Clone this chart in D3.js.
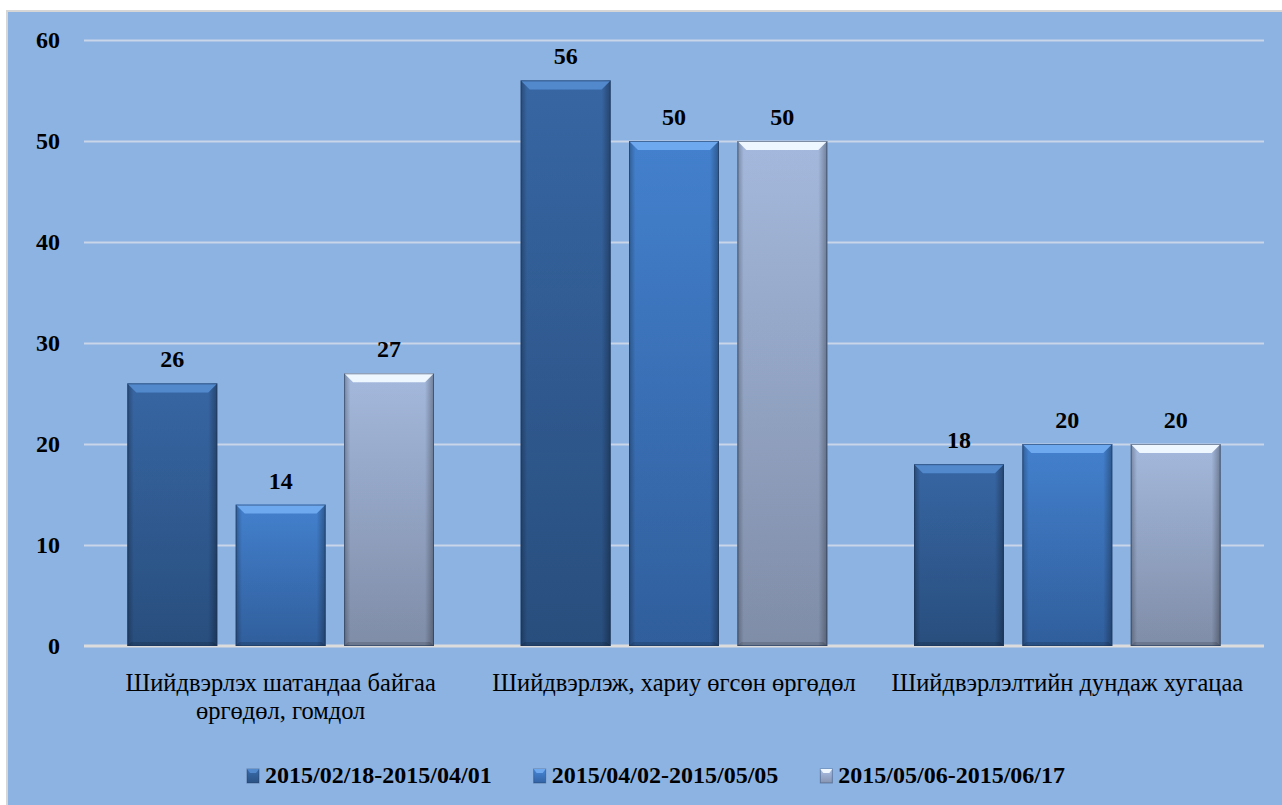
<!DOCTYPE html>
<html>
<head>
<meta charset="utf-8">
<script src="https://cdn.jsdelivr.net/npm/d3@7"></script>
<style>
  body { margin: 0; background: #ffffff; }
  svg { display: block; }
  .axis text { font-family: "Liberation Serif", "Times New Roman", serif; font-weight: bold; font-size: 24px; fill: #000; }
</style>
</head>
<body>
<script>
var categories = ["Шийдвэрлэх шатандаа байгаа өргөдөл, гомдол", "Шийдвэрлэж, хариу өгсөн өргөдөл", "Шийдвэрлэлтийн дундаж хугацаа"];
var seriesNames = ["2015/02/18-2015/04/01", "2015/04/02-2015/05/05", "2015/05/06-2015/06/17"];
var values1 = [26, 56, 18];
var values2 = [14, 50, 20];
var values3 = [27, 50, 20];
var yTicks = [0, 10, 20, 30, 40, 50, 60];

var allValues = [values1, values2, values3];

// colours per series: body top, body bottom, top bevel
var seriesColors = [
  {top: "#3A6BAB", bottom: "#2A5284", bevel: "#5289CD"},
  {top: "#4687D8", bottom: "#3363A4", bevel: "#6EA8EE"},
  {top: "#ACC2E8", bottom: "#8694B0", bevel: "#EEF6FF"}
];

var screen = {width: 1282, height: 805};
var plot = {left: 84, right: 1264, top: 40, bottom: 646};

var svg = d3.select("body")
            .append("svg")
            .attr("width", screen.width)
            .attr("height", screen.height);

var defs = svg.append("defs");

seriesColors.forEach(function(c, i) {
  var g = defs.append("linearGradient")
              .attr("id", "body" + i)
              .attr("x1", 0).attr("y1", 0).attr("x2", 0).attr("y2", 1);
  g.append("stop").attr("offset", "0%").attr("stop-color", c.top);
  g.append("stop").attr("offset", "100%").attr("stop-color", c.bottom);
});

var side = defs.append("linearGradient")
               .attr("id", "side")
               .attr("x1", 0).attr("y1", 0).attr("x2", 1).attr("y2", 0);
side.append("stop").attr("offset", "0%").attr("stop-color", "#000").attr("stop-opacity", 0.3);
side.append("stop").attr("offset", "7%").attr("stop-color", "#000").attr("stop-opacity", 0.05);
side.append("stop").attr("offset", "90%").attr("stop-color", "#000").attr("stop-opacity", 0.05);
side.append("stop").attr("offset", "100%").attr("stop-color", "#000").attr("stop-opacity", 0.35);

// panel
svg.append("rect")
   .attr("x", 7)
   .attr("y", 11)
   .attr("width", screen.width + 10)
   .attr("height", screen.height + 10)
   .attr("fill", "#8DB3E2")
   .attr("stroke", "#D6D6D6")
   .attr("stroke-width", 2);

var x0 = d3.scaleBand()
           .domain(categories)
           .range([plot.left, plot.right]);

var x1 = d3.scaleBand()
           .domain(d3.range(seriesNames.length))
           .range([0, x0.bandwidth()])
           .paddingInner(0.17)
           .paddingOuter(0.4);

var yScale = d3.scaleLinear()
               .domain([0, 60])
               .range([plot.bottom, plot.top]);

var yAxis = d3.axisLeft()
              .scale(yScale)
              .tickValues(yTicks)
              .tickSize(-(plot.right - plot.left))
              .tickPadding(24);

var yAxisG = svg.append("g")
   .attr("class", "axis")
   .attr("transform", "translate(" + plot.left + ",0)")
   .call(yAxis);
yAxisG.select(".domain").remove();
yAxisG.selectAll("line")
      .attr("stroke", "#C9D6EA")
      .attr("stroke-width", 2)
      .attr("stroke-opacity", function(d) { return d === 0 ? 0 : 1; });
yAxisG.selectAll("text").attr("dy", "0.33em");

// baseline
svg.append("line")
   .attr("x1", plot.left)
   .attr("x2", plot.right)
   .attr("y1", yScale(0))
   .attr("y2", yScale(0))
   .attr("stroke", "#DCDCDC")
   .attr("stroke-width", 3);

var bevel = 9;

var groups = svg.append("g")
                .selectAll("g")
                .data(categories)
                .enter()
                .append("g")
                .attr("transform", function(d) { return "translate(" + x0(d) + ",0)"; });

var bars = groups.selectAll("g.bar")
   .data(function(d, ci) {
     return allValues.map(function(vals, si) { return {series: si, value: vals[ci]}; });
   })
   .enter()
   .append("g")
   .attr("class", "bar");

bars.append("rect")
    .attr("x", function(d) { return x1(d.series); })
    .attr("y", function(d) { return yScale(d.value); })
    .attr("width", x1.bandwidth())
    .attr("height", function(d) { return yScale(0) - yScale(d.value); })
    .attr("fill", function(d) { return "url(#body" + d.series + ")"; });

bars.append("rect")
    .attr("x", function(d) { return x1(d.series); })
    .attr("y", function(d) { return yScale(d.value); })
    .attr("width", x1.bandwidth())
    .attr("height", function(d) { return yScale(0) - yScale(d.value); })
    .attr("fill", "url(#side)");

// top bevel
bars.append("path")
    .attr("d", function(d) {
      var x = x1(d.series), w = x1.bandwidth(), y = yScale(d.value);
      return "M" + x + "," + y + "L" + (x + w) + "," + y +
             "L" + (x + w - bevel) + "," + (y + bevel) + "L" + (x + bevel) + "," + (y + bevel) + "Z";
    })
    .attr("fill", function(d) { return seriesColors[d.series].bevel; });

// bottom edge
bars.append("path")
    .attr("d", function(d) {
      var x = x1(d.series), w = x1.bandwidth(), y = yScale(0);
      return "M" + x + "," + y + "L" + (x + w) + "," + y +
             "L" + (x + w - 4) + "," + (y - 4) + "L" + (x + 4) + "," + (y - 4) + "Z";
    })
    .attr("fill", "#000")
    .attr("fill-opacity", 0.15);

bars.append("rect")
    .attr("x", function(d) { return x1(d.series) + 0.5; })
    .attr("y", function(d) { return yScale(d.value) + 0.5; })
    .attr("width", x1.bandwidth() - 1)
    .attr("height", function(d) { return yScale(0) - yScale(d.value) - 1; })
    .attr("fill", "none")
    .attr("stroke", "#1D3557")
    .attr("stroke-opacity", 0.55);

bars.append("text")
    .attr("x", function(d) { return x1(d.series) + x1.bandwidth() / 2; })
    .attr("y", function(d) { return yScale(d.value) - 16; })
    .attr("text-anchor", "middle")
    .style("font-family", "'Liberation Serif', 'Times New Roman', serif")
    .style("font-weight", "bold")
    .style("font-size", "24px")
    .text(function(d) { return d.value; });

// category labels with wrapping
var catLabels = svg.append("g")
   .selectAll("text")
   .data(categories)
   .enter()
   .append("text")
   .attr("x", function(d) { return x0(d) + x0.bandwidth() / 2; })
   .attr("y", 691)
   .attr("text-anchor", "middle")
   .style("font-family", "'Liberation Serif', 'Times New Roman', serif")
   .style("font-size", "24.5px");

catLabels.each(function(d) {
  var text = d3.select(this);
  var words = d.split(" ");
  var maxW = x0.bandwidth() - 20;
  var line = [];
  var tspan = text.append("tspan").attr("x", text.attr("x")).attr("dy", 0);
  words.forEach(function(w) {
    line.push(w);
    tspan.text(line.join(" "));
    if (tspan.node().getComputedTextLength() > maxW && line.length > 1) {
      line.pop();
      tspan.text(line.join(" "));
      line = [w];
      tspan = text.append("tspan").attr("x", text.attr("x")).attr("dy", 28).text(w);
    }
  });
});

// legend
var legend = svg.append("g");
var items = legend.selectAll("g")
   .data(seriesNames)
   .enter()
   .append("g");

items.append("rect")
     .attr("x", 0)
     .attr("y", -14)
     .attr("width", 12)
     .attr("height", 14)
     .attr("fill", function(d, i) { return "url(#body" + i + ")"; })
     .attr("stroke", "#1D3557")
     .attr("stroke-opacity", 0.4);

items.append("path")
     .attr("d", "M0,-14L12,-14L9,-10L3,-10Z")
     .attr("fill", function(d, i) { return seriesColors[i].bevel; });

items.append("text")
     .attr("x", 18)
     .attr("y", 0)
     .style("font-family", "'Liberation Serif', 'Times New Roman', serif")
     .style("font-weight", "bold")
     .style("font-size", "24px")
     .text(function(d) { return d; });

var gap = 42;
var widths = [];
items.each(function() { widths.push(this.getBBox().width); });
var total = d3.sum(widths) + gap * (widths.length - 1);
var startX = 656 - total / 2;
items.attr("transform", function(d, i) {
  var xPos = startX + d3.sum(widths.slice(0, i)) + gap * i;
  return "translate(" + xPos + ",783)";
});
</script>
</body>
</html>
